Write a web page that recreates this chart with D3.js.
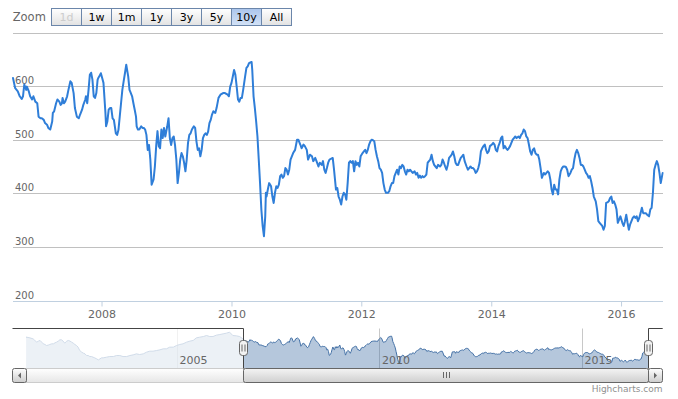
<!DOCTYPE html>
<html><head><meta charset="utf-8">
<script src="https://cdn.jsdelivr.net/npm/d3@7"></script>
<style>
html,body{margin:0;padding:0;background:#fff;}
svg{display:block;font-family:"DejaVu Sans",Verdana,sans-serif;}
</style></head><body>
<svg id="c" width="678" height="399"></svg>
<script>
// ---------- data ----------
const rangeButtons = ["1d","1w","1m","1y","3y","5y","10y","All"];
const selectedButton = "10y";
const disabledButtons = ["1d"];
const yTickValues = [200,300,400,500,600,700];
const yLabelValues = [200,300,400,500,600];
const viewStart = 2006.636, viewEnd = 2016.64;

// decimal years
const years = [
2001.30,2001.38,2001.46,2001.50,2001.55,2001.59,2001.63,2001.67,2001.71,2001.75,2001.79,2001.83,2001.87,2001.92,2001.96,
2002.00,2002.04,2002.08,2002.12,2002.16,2002.20,2002.24,2002.29,2002.33,2002.37,2002.41,2002.45,2002.49,2002.53,2002.57,2002.61,2002.66,2002.70,2002.74,2002.78,2002.82,2002.86,2002.90,2002.94,2002.98,
2003.03,2003.07,2003.11,2003.15,2003.19,2003.27,2003.35,2003.44,2003.52,2003.60,2003.68,2003.77,2003.85,2003.93,
2004.01,2004.09,2004.18,2004.26,2004.34,2004.42,2004.51,2004.59,2004.67,2004.75,2004.83,2004.92,
2005.00,2005.08,2005.16,2005.25,2005.33,2005.41,2005.49,2005.57,2005.66,2005.74,2005.82,2005.90,2005.98,
2006.07,2006.15,2006.23,2006.31,2006.39,2006.48,2006.56,
2006.636,2006.67,2006.71,2006.74,2006.77,2006.79,2006.81,2006.84,2006.85,2006.88,2006.90,2006.93,2006.95,2006.98,
2007.01,2007.03,2007.06,2007.08,2007.11,2007.13,2007.16,2007.18,2007.21,2007.24,2007.25,2007.27,2007.30,2007.32,2007.35,2007.37,2007.39,2007.40,2007.42,2007.44,2007.47,2007.49,2007.52,2007.54,2007.57,2007.59,2007.62,2007.65,2007.67,2007.70,2007.72,2007.75,2007.76,2007.78,2007.80,2007.82,2007.84,2007.86,2007.88,2007.90,2007.92,2007.94,2007.95,2007.98,2007.99,
2008.01,2008.03,2008.06,2008.07,2008.09,2008.11,2008.13,2008.15,2008.17,2008.19,2008.22,2008.24,2008.26,2008.28,2008.30,2008.32,2008.34,2008.36,2008.38,2008.41,2008.43,2008.44,2008.47,2008.49,2008.51,2008.53,2008.54,2008.56,2008.58,2008.61,2008.63,2008.65,2008.67,2008.69,2008.71,2008.73,2008.75,2008.77,2008.80,2008.82,2008.84,2008.86,2008.88,2008.90,2008.92,2008.94,2008.96,2008.98,
2009.01,2009.03,2009.05,2009.07,2009.09,2009.11,2009.13,2009.15,2009.17,2009.19,2009.21,2009.23,2009.25,2009.27,2009.29,2009.31,2009.33,2009.35,2009.37,2009.39,2009.42,2009.44,2009.46,2009.48,2009.50,2009.52,2009.54,2009.56,2009.58,2009.60,2009.62,2009.64,2009.66,2009.68,2009.70,2009.72,2009.75,2009.77,2009.80,2009.83,2009.87,2009.90,2009.94,2009.96,2009.98,
2010.00,2010.02,2010.04,2010.06,2010.08,2010.10,2010.12,2010.14,2010.16,2010.18,2010.21,2010.23,2010.25,2010.27,2010.29,2010.31,2010.32,2010.34,2010.36,2010.38,2010.40,2010.42,2010.44,2010.46,2010.48,2010.50,2010.52,2010.53,2010.54,2010.56,2010.58,2010.61,2010.63,2010.65,2010.67,2010.69,2010.71,2010.73,2010.75,2010.77,2010.79,2010.81,2010.83,2010.85,2010.87,2010.89,2010.91,2010.93,2010.95,2010.98,
2011.01,2011.03,2011.06,2011.08,2011.11,2011.13,2011.16,2011.18,2011.21,2011.24,2011.26,2011.29,2011.31,2011.34,2011.36,2011.39,2011.41,2011.43,2011.45,2011.47,2011.49,2011.51,
2011.56,2011.58,2011.61,2011.63,2011.65,2011.67,2011.69,2011.71,2011.73,2011.75,2011.77,2011.79,2011.81,2011.83,2011.85,2011.87,2011.89,2011.91,2011.93,2011.95,2011.97,2011.99,
2012.02,2012.04,2012.06,2012.08,2012.10,2012.12,2012.14,2012.16,2012.18,2012.20,2012.22,2012.24,2012.26,2012.28,2012.30,2012.32,2012.34,2012.36,2012.38,2012.41,2012.43,2012.45,2012.47,2012.49,2012.51,2012.53,2012.55,2012.57,2012.59,2012.61,2012.63,2012.65,2012.67,2012.69,2012.71,2012.73,2012.75,2012.77,2012.79,2012.82,2012.84,2012.86,2012.88,2012.90,2012.92,2012.94,2012.96,2012.98,
2013.00,2013.02,2013.04,2013.06,2013.08,2013.10,2013.12,2013.14,2013.16,2013.18,2013.21,2013.23,2013.25,2013.27,2013.29,2013.31,2013.33,2013.35,2013.37,2013.39,2013.41,2013.43,2013.45,2013.47,2013.49,2013.51,2013.53,2013.55,2013.57,2013.59,2013.62,2013.64,2013.66,2013.68,2013.70,2013.72,2013.74,2013.76,2013.78,2013.80,2013.82,2013.84,2013.86,2013.88,2013.90,2013.92,2013.94,2013.96,2013.98,
2014.01,2014.03,2014.05,2014.07,2014.09,2014.11,2014.13,2014.15,2014.17,2014.19,2014.21,2014.23,2014.25,2014.27,2014.29,2014.31,2014.33,2014.35,2014.37,2014.39,2014.42,2014.44,2014.46,2014.48,2014.50,2014.52,2014.54,2014.56,2014.58,2014.60,2014.62,2014.64,2014.66,2014.68,2014.70,2014.72,2014.74,2014.76,2014.78,2014.81,2014.83,2014.85,2014.87,2014.89,2014.91,2014.93,2014.95,2014.97,2014.99,
2015.01,2015.03,2015.05,2015.07,2015.09,2015.11,2015.13,2015.15,2015.17,2015.19,2015.22,2015.24,2015.26,2015.28,2015.30,2015.32,2015.34,2015.36,2015.38,2015.40,2015.42,2015.44,2015.46,2015.48,2015.50,2015.52,2015.54,2015.56,2015.58,2015.61,2015.63,2015.65,2015.67,2015.69,2015.71,2015.73,2015.75,2015.77,2015.79,2015.81,2015.83,2015.85,2015.87,2015.89,2015.91,2015.93,2015.95,2015.97,2015.99,
2016.02,2016.04,2016.06,2016.08,2016.10,2016.12,2016.14,2016.16,2016.18,2016.20,2016.22,2016.24,2016.26,2016.28,2016.30,2016.32,2016.34,2016.36,2016.38,2016.40,2016.43,2016.45,2016.47,2016.49,2016.51,2016.53,2016.55,2016.57,2016.59,2016.61,2016.63,2016.64
];

const prices = [
633,625,613,594,574,586,594,574,554,546,534,538,546,554,554,
566,574,586,602,602,586,562,586,594,586,574,562,546,534,514,474,454,442,434,414,414,402,402,394,386,
374,362,374,386,386,394,402,402,414,414,402,402,414,422,
434,426,434,454,466,466,474,482,494,494,514,514,
534,546,554,574,586,594,625,633,641,653,641,641,657,
665,673,681,693,653,649,641,
615,596,590,581,576,581,603,593,599,590,581,575,581,571,
568,543,540,540,537,531,528,522,519,534,550,553,568,575,571,565,568,578,568,571,581,593,609,606,587,559,543,540,547,556,565,575,581,568,593,621,625,612,581,578,587,612,615,621,624,
615,606,550,525,534,556,559,559,540,537,512,509,518,543,568,593,609,624,640,618,593,590,581,568,556,543,525,519,519,525,522,522,519,509,481,490,463,416,426,450,488,516,488,484,519,503,522,506,
525,540,503,490,503,506,490,463,419,438,463,475,469,457,441,463,494,509,512,519,525,522,497,481,484,469,481,503,509,512,509,515,531,537,547,553,550,559,578,584,587,587,584,581,599,
606,618,630,621,599,575,571,578,578,593,618,634,637,643,644,645,630,581,559,534,506,463,419,370,339,320,357,401,394,407,419,413,394,382,401,413,410,416,432,435,429,432,447,444,435,444,463,469,475,481,
500,500,491,484,491,488,481,463,472,469,460,466,460,450,457,453,460,444,438,447,457,463,
466,444,407,410,394,388,379,394,401,398,388,419,457,460,457,460,441,460,453,457,450,469,
475,478,481,475,481,491,497,500,499,497,481,469,460,447,444,438,419,407,401,401,404,413,419,419,432,438,444,435,450,447,453,450,441,435,444,441,444,441,438,441,435,438,429,433,429,432,430,432,
435,457,460,463,472,460,453,450,447,453,450,453,463,457,450,444,453,466,469,472,478,469,457,453,453,460,466,469,472,460,450,444,447,450,447,447,444,438,441,447,457,478,484,488,491,481,475,478,488,
491,494,491,481,478,488,494,503,506,484,488,484,481,484,488,494,500,503,506,503,506,503,509,512,519,516,506,503,491,478,472,481,484,475,472,472,463,447,429,438,435,438,441,438,426,407,398,416,407,
407,398,426,441,447,450,450,449,444,432,438,444,447,463,475,481,475,466,453,453,450,444,438,435,429,432,422,410,394,385,370,348,345,342,339,332,339,382,383,385,391,394,382,385,379,370,345,351,357,
345,339,348,360,345,332,342,348,354,357,354,357,348,354,363,373,363,363,363,360,357,370,373,401,444,453,460,453,438,419,432,438
];

// ---------- helpers ----------
function toDate(y){
  const yr = Math.floor(y);
  const s = Date.UTC(yr,0,1), e = Date.UTC(yr+1,0,1);
  return new Date(s + (y-yr)*(e-s));
}
const data = years.map((y,i)=>({date: toDate(y), value: prices[i], yr: y}));
const viewData = data.filter(d => d.yr >= viewStart - 1e-9 && d.yr <= viewEnd + 1e-9);

const svg = d3.select("#c");
const defs = svg.append("defs");
function grad(id, c0, c1){
  const g = defs.append("linearGradient").attr("id",id).attr("x1",0).attr("y1",0).attr("x2",0).attr("y2",1);
  g.append("stop").attr("offset","0").attr("stop-color",c0);
  g.append("stop").attr("offset","1").attr("stop-color",c1);
}
grad("btnNormal","#ffffff","#e2e2e2");
grad("btnSel","#abc5ec","#d3e2f6");
grad("sbBtn","#ffffff","#cccccc");
grad("sbBar","#f4f4f4","#cfcfcf");
grad("sbTrack","#ffffff","#e6e6e6");

// ---------- main plot ----------
const plot = {left:13, right:662.7, top:32.5, bottom:300.5};
const x = d3.scaleUtc().domain([toDate(viewStart), toDate(viewEnd)]).range([plot.left, plot.right]);
const y = d3.scaleLinear().domain([200,700]).range([plot.bottom, plot.top]);

// gridlines
svg.append("g").selectAll("line").data(yTickValues).join("line")
  .attr("x1", plot.left).attr("x2", 663)
  .attr("y1", d => Math.round(y(d)) + 0.5).attr("y2", d => Math.round(y(d)) + 0.5)
  .attr("stroke", "#c0c0c0").attr("stroke-width", 1);

// y labels
svg.append("g").selectAll("text").data(yLabelValues).join("text")
  .attr("x", 15).attr("y", d => Math.round(y(d)) - 2)
  .attr("font-size", 10).attr("fill", "#666")
  .text(d => d);

// x axis
const xAxisG = svg.append("g").attr("transform", `translate(0,${Math.round(plot.bottom)+0.5})`);
const xAxis = d3.axisBottom(x).ticks(d3.utcYear.every(2)).tickSize(5).tickPadding(4).tickFormat(d3.utcFormat("%Y"));
xAxisG.call(xAxis);
xAxisG.select(".domain").attr("d", `M${plot.left},0H663`).attr("stroke","#C0D0E0");
xAxisG.selectAll(".tick line").attr("stroke","#C0D0E0");
xAxisG.selectAll(".tick text").attr("fill","#666").attr("font-size",11)
  .attr("font-family","DejaVu Sans, Verdana, sans-serif").attr("dy","0.71em");

// clip + line
defs.append("clipPath").attr("id","plotClip").append("rect")
  .attr("x", plot.left-1).attr("y", plot.top-5).attr("width", plot.right-plot.left+2).attr("height", plot.bottom-plot.top+10);
svg.append("path").datum(viewData)
  .attr("clip-path","url(#plotClip)")
  .attr("fill","none").attr("stroke","#2f7ed8").attr("stroke-width",2)
  .attr("stroke-linejoin","round").attr("stroke-linecap","round")
  .attr("d", d3.line().x(d=>x(d.date)).y(d=>y(d.value)));

// ---------- range selector ----------
svg.append("text").attr("x",12.7).attr("y",21).attr("font-size",11.5).attr("fill","#666").text("Zoom");
const btnG = svg.append("g").selectAll("g").data(rangeButtons).join("g")
  .attr("transform",(d,i)=>`translate(${51.5 + i*30},8.5)`);
btnG.append("rect").attr("width",30).attr("height",17)
  .attr("fill", d => d===selectedButton ? "url(#btnSel)" : "url(#btnNormal)")
  .attr("stroke","#6b86aa").attr("stroke-width",1);
btnG.append("text").attr("x",15).attr("y",12.5).attr("text-anchor","middle")
  .attr("font-size",11).attr("fill", d => disabledButtons.includes(d) ? "#cccccc" : "#000")
  .text(d=>d);

// ---------- navigator ----------
const nav = {left:26.7, right:648, top:328.5, bottom:368.5};
const navYMin = 259, navYMax = 737;
const nx = d3.scaleUtc().domain([data[0].date, data[data.length-1].date]).range([nav.left, nav.right]);
const ny = d3.scaleLinear().domain([navYMin, navYMax]).range([nav.bottom, nav.top]);

const navTicks = nx.ticks(d3.utcYear.every(5));
svg.append("g").selectAll("line").data(navTicks).join("line")
  .attr("x1", d=>Math.round(nx(d))+0.5).attr("x2", d=>Math.round(nx(d))+0.5)
  .attr("y1", nav.top).attr("y2", nav.bottom)
  .attr("stroke","#c8c8c8");

svg.append("path").datum(data)
  .attr("fill","#4572A7").attr("fill-opacity",0.4)
  .attr("d", d3.area().x(d=>nx(d.date)).y0(nav.bottom).y1(d=>ny(d.value)));
svg.append("path").datum(data)
  .attr("fill","none").attr("stroke","#4572A7").attr("stroke-width",1)
  .attr("d", d3.line().x(d=>nx(d.date)).y(d=>ny(d.value)));

const hL = Math.round(nx(toDate(viewStart)))+0.5;
const hR = Math.round(nx(toDate(viewEnd)))+0.5;
// masks
svg.append("rect").attr("x", nav.left).attr("y", nav.top).attr("width", Math.max(0,hL-nav.left)).attr("height", nav.bottom-nav.top)
  .attr("fill","rgba(255,255,255,0.75)");
svg.append("rect").attr("x", hR).attr("y", nav.top).attr("width", Math.max(0,nav.right-hR)).attr("height", nav.bottom-nav.top)
  .attr("fill","rgba(255,255,255,0.75)");

// navigator labels (above masks)
svg.append("g").selectAll("text").data(navTicks).join("text")
  .attr("x", d=>nx(d)+3).attr("y", nav.bottom-4.5)
  .attr("font-size",11).attr("fill","#666")
  .text(d3.utcFormat("%Y"));

// ---------- scrollbar ----------
const sb = {top:368.5, bottom:382.5, left:12.5, right:662.5};
svg.append("rect").attr("x", 26.5).attr("y", sb.top).attr("width", 648.5-26.5).attr("height", sb.bottom-sb.top)
  .attr("fill","url(#sbTrack)").attr("stroke","#cccccc");
svg.append("rect").attr("x", hL).attr("y", sb.top).attr("width", hR-hL).attr("height", sb.bottom-sb.top)
  .attr("rx",2).attr("fill","url(#sbBar)").attr("stroke","#666");
const cx = Math.round((hL+hR)/2)+0.5;
svg.append("path").attr("d", `M${cx-3},372V378M${cx},372V378M${cx+3},372V378`).attr("stroke","#666").attr("stroke-width",1);
// buttons
[[sb.left, -1],[648.5, 1]].forEach(([bx,dir])=>{
  svg.append("rect").attr("x",bx).attr("y",sb.top).attr("width",14).attr("height",14)
    .attr("rx",2).attr("fill","url(#sbBtn)").attr("stroke","#666");
  const mx = bx+7, my = sb.top+7;
  svg.append("path").attr("fill","#666")
    .attr("d", dir<0 ? `M${mx+1.5},${my-3}L${mx-1.5},${my}L${mx+1.5},${my+3}Z` : `M${mx-1.5},${my-3}L${mx+1.5},${my}L${mx-1.5},${my+3}Z`);
});

// outline
svg.append("path").attr("fill","none").attr("stroke","#444").attr("stroke-width",1)
  .attr("d", `M12.5,${nav.top}H${hL}V${nav.bottom}M${hR},${nav.bottom}V${nav.top}H662.7`);

// handles
[hL,hR].forEach(hx=>{
  svg.append("rect").attr("x",hx-4).attr("y",340.5).attr("width",8).attr("height",15).attr("rx",3)
    .attr("fill","#f2f2f2").attr("stroke","#666");
  svg.append("path").attr("d",`M${hx-1.5},344.5V351.5M${hx+1.5},344.5V351.5`).attr("stroke","#666");
});

// credits
svg.append("text").attr("x",662.5).attr("y",391.5).attr("text-anchor","end")
  .attr("font-size",9).attr("fill","#909090").text("Highcharts.com");
</script>
</body></html>
